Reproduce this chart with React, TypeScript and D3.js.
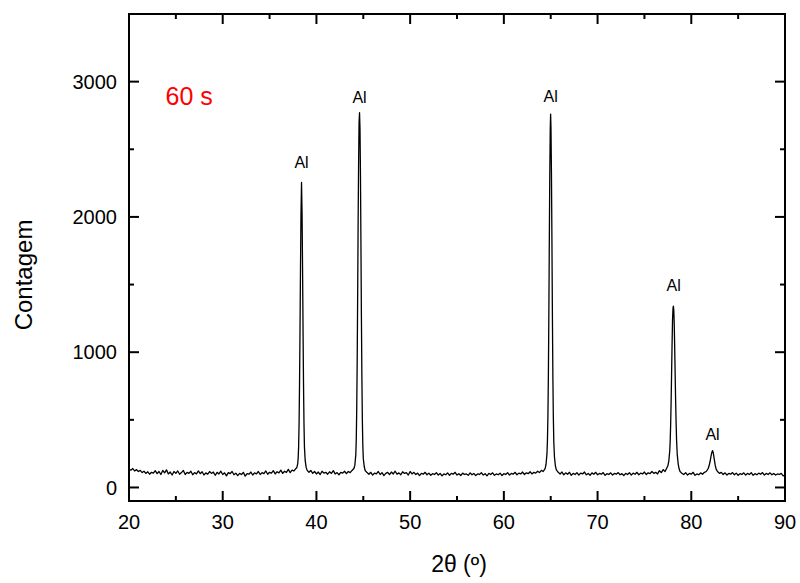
import React from "react";
import * as d3 from "d3";

// ---- data ----
const bg1: [number, number][] = [
  [20.0,135],[20.2,128],[20.4,140],[20.6,122],[20.8,132],[21.0,118],[21.2,126],[21.4,110],[21.6,120],[21.8,104],
  [22.0,116],[22.2,98],[22.4,112],[22.6,106],[22.8,124],[23.0,102],[23.2,118],[23.4,96],[23.6,126],[23.8,108],
  [24.0,130],[24.2,100],[24.4,114],[24.6,92],[24.8,118],[25.0,104],[25.2,122],[25.4,98],[25.6,110],[25.8,126],
  [26.0,96],[26.2,112],[26.4,104],[26.6,120],[26.8,94],[27.0,110],[27.2,100],[27.4,122],[27.6,102],[27.8,116],
  [28.0,92],[28.2,108],[28.4,98],[28.6,118],[28.8,104],[29.0,114],[29.2,90],[29.4,112],[29.6,100],[29.8,120],
  [30.0,96],[30.2,108],[30.4,86],[30.6,110],[30.8,102],[31.0,118],[31.2,94],[31.4,106],[31.6,88],[31.8,104],
  [32.0,96],[32.2,112],[32.4,84],[32.6,102],[32.8,98],[33.0,114],[33.2,92],[33.4,108],[33.6,100],[33.8,118],
  [34.0,96],[34.2,110],[34.4,102],[34.6,122],[34.8,98],[35.0,112],[35.2,106],[35.4,124],[35.6,100],[35.8,116],
  [36.0,108],[36.2,128],[36.4,104],[36.6,120],[36.8,112],[37.0,134],[37.2,110],[37.4,128],[37.6,122],[37.8,140],
];
const peak38: [number, number][] = [
  [37.9,145],[38.0,175],[38.05,215],[38.1,300],[38.15,480],[38.2,780],[38.25,1180],[38.3,1620],[38.35,2010],
  [38.41,2255],[38.47,2010],[38.52,1620],[38.57,1180],[38.62,780],[38.67,480],[38.72,300],[38.8,200],[38.9,150],[39.0,128],
];
const bg2: [number, number][] = [
  [39.2,112],[39.4,126],[39.6,104],[39.8,118],[40.0,100],[40.2,114],[40.4,96],[40.6,120],[40.8,106],[41.0,112],
  [41.2,98],[41.4,116],[41.6,104],[41.8,124],[42.0,100],[42.2,110],[42.4,94],[42.6,112],[42.8,106],[43.0,120],
  [43.2,102],[43.4,118],[43.6,110],[43.8,126],[44.0,140],
];
const peak44: [number, number][] = [
  [44.1,165],[44.2,240],[44.25,350],[44.3,580],[44.35,940],[44.4,1420],[44.45,1960],[44.5,2400],[44.55,2700],
  [44.6,2770],[44.65,2650],[44.7,2300],[44.75,1800],[44.8,1260],[44.85,820],[44.9,500],[44.95,310],[45.0,215],[45.1,155],[45.2,125],
];
const bg3: [number, number][] = [
  [45.4,110],[45.6,98],[45.8,112],[46.0,92],[46.2,106],[46.4,100],[46.6,118],[46.8,96],[47.0,110],[47.2,88],
  [47.4,104],[47.6,112],[47.8,96],[48.0,114],[48.2,100],[48.4,120],[48.6,98],[48.8,108],[49.0,94],[49.2,116],
  [49.4,104],[49.6,110],[49.8,92],[50.0,118],[50.2,100],[50.4,112],[50.6,96],[50.8,106],[51.0,88],[51.2,104],
  [51.4,98],[51.6,112],[51.8,94],[52.0,106],[52.2,90],[52.4,102],[52.6,96],[52.8,110],[53.0,92],[53.2,104],
  [53.4,86],[53.6,100],[53.8,94],[54.0,108],[54.2,90],[54.4,104],[54.6,98],[54.8,112],[55.0,92],[55.2,102],
  [55.4,88],[55.6,106],[55.8,96],[56.0,100],[56.2,90],[56.4,108],[56.6,94],[56.8,104],[57.0,88],[57.2,100],
  [57.4,96],[57.6,110],[57.8,92],[58.0,102],[58.2,86],[58.4,104],[58.6,96],[58.8,108],[59.0,90],[59.2,100],
  [59.4,94],[59.6,106],[59.8,88],[60.0,102],[60.2,96],[60.4,110],[60.6,92],[60.8,104],[61.0,98],[61.2,112],
  [61.4,94],[61.6,106],[61.8,100],[62.0,114],[62.2,96],[62.4,108],[62.6,102],[62.8,116],[63.0,100],[63.2,112],
  [63.4,106],[63.6,120],[63.8,110],[64.0,126],[64.2,118],[64.4,140],
];
const peak65: [number, number][] = [
  [64.5,170],[64.6,250],[64.65,345],[64.7,520],[64.75,820],[64.8,1270],[64.85,1820],[64.9,2310],[64.95,2650],
  [64.99,2760],[65.03,2650],[65.08,2310],[65.13,1820],[65.18,1270],[65.23,820],[65.28,520],[65.33,335],[65.4,225],[65.5,160],[65.6,130],
];
const bg4: [number, number][] = [
  [65.8,112],[66.0,100],[66.2,114],[66.4,94],[66.6,108],[66.8,98],[67.0,112],[67.2,90],[67.4,104],[67.6,96],
  [67.8,110],[68.0,92],[68.2,106],[68.4,100],[68.6,114],[68.8,94],[69.0,104],[69.2,90],[69.4,108],[69.6,98],
  [69.8,112],[70.0,94],[70.2,104],[70.4,98],[70.6,110],[70.8,90],[71.0,102],[71.2,96],[71.4,108],[71.6,92],
  [71.8,104],[72.0,98],[72.2,110],[72.4,94],[72.6,102],[72.8,88],[73.0,104],[73.2,96],[73.4,110],[73.6,92],
  [73.8,106],[74.0,98],[74.2,112],[74.4,94],[74.6,106],[74.8,100],[75.0,114],[75.2,96],[75.4,108],[75.6,102],
  [75.8,118],[76.0,104],[76.2,112],[76.4,100],[76.6,124],[76.8,110],[77.0,132],[77.2,118],[77.4,146],[77.5,160],
];
const peak78: [number, number][] = [
  [77.6,195],[77.7,270],[77.75,345],[77.8,470],[77.85,640],[77.9,850],[77.95,1060],[78.0,1240],[78.05,1325],
  [78.09,1340],[78.13,1315],[78.18,1210],[78.23,1030],[78.28,830],[78.33,640],[78.38,480],[78.43,350],[78.5,245],
  [78.6,175],[78.7,138],[78.8,118],
];
const bg5: [number, number][] = [
  [79.0,104],[79.2,96],[79.4,110],[79.6,92],[79.8,104],[80.0,98],[80.2,112],[80.4,90],[80.6,100],[80.8,94],
  [81.0,108],[81.2,98],[81.4,112],[81.6,118],[81.8,140],
];
const peak82: [number, number][] = [
  [81.9,160],[82.0,190],[82.1,230],[82.2,262],[82.27,272],[82.35,255],[82.45,210],[82.55,165],[82.65,135],[82.8,118],[83.0,104],
];
const bg6: [number, number][] = [
  [83.2,112],[83.4,96],[83.6,108],[83.8,92],[84.0,104],[84.2,98],[84.4,110],[84.6,94],[84.8,106],[85.0,90],
  [85.2,102],[85.4,96],[85.6,108],[85.8,92],[86.0,104],[86.2,96],[86.4,110],[86.6,90],[86.8,102],[87.0,94],
  [87.2,106],[87.4,98],[87.6,110],[87.8,92],[88.0,104],[88.2,96],[88.4,108],[88.6,94],[88.8,104],[89.0,92],
  [89.2,100],[89.4,96],[89.6,104],[89.8,86],[90.0,92],
];

const peakLabelX = [38.41, 44.6, 65.0, 78.12, 82.27];
const peakLabelY = [2360, 2843, 2851, 1456, 354];
const peakLabelText = ["Al", "Al", "Al", "Al", "Al"];

const xTicks = [20, 30, 40, 50, 60, 70, 80, 90];
const xMinor = [25, 35, 45, 55, 65, 75, 85];
const yTicks = [0, 1000, 2000, 3000];
const yMinor = [500, 1500, 2500];

const sampleLabel = "60 s";
const sampleLabelPos: [number, number] = [23.9, 2830];

const W = 800, H = 583;
const left = 129, right = 785, top = 14, bottom = 501;
const FONT = "'Liberation Sans', Arial, Helvetica, sans-serif";

export default function App() {
  const x = d3.scaleLinear().domain([20, 90]).range([left, right]);
  const y = d3.scaleLinear().domain([-100, 3500]).range([bottom, top]);
  const all = [...bg1, ...peak38, ...bg2, ...peak44, ...bg3, ...peak65, ...bg4, ...peak78, ...bg5, ...peak82, ...bg6];
  const line = d3.line<[number, number]>().x(d => x(d[0])).y(d => y(d[1]));
  const maj = 10, min = 5;
  return (
    <svg width={W} height={H} style={{ position: "absolute", left: 0, top: 0 }} fontFamily={FONT}>
      <rect width={W} height={H} fill="#fff" />
      <path d={line(all) ?? ""} fill="none" stroke="#000" strokeWidth={1.3} strokeLinejoin="round" />
      {/* frame */}
      <rect x={left} y={top} width={right - left} height={bottom - top} fill="none" stroke="#000" strokeWidth={2} />
      {xTicks.map(t => (
        <g key={"xt" + t}>
          <line x1={x(t)} x2={x(t)} y1={bottom} y2={bottom - maj} stroke="#000" strokeWidth={2} />
          <line x1={x(t)} x2={x(t)} y1={top} y2={top + maj} stroke="#000" strokeWidth={2} />
          <text x={x(t)} y={529} textAnchor="middle" fontSize={20}>{t}</text>
        </g>
      ))}
      {xMinor.map(t => (
        <g key={"xm" + t}>
          <line x1={x(t)} x2={x(t)} y1={bottom} y2={bottom - min} stroke="#000" strokeWidth={2} />
          <line x1={x(t)} x2={x(t)} y1={top} y2={top + min} stroke="#000" strokeWidth={2} />
        </g>
      ))}
      {yTicks.map(t => (
        <g key={"yt" + t}>
          <line x1={left} x2={left + maj} y1={y(t)} y2={y(t)} stroke="#000" strokeWidth={2} />
          <line x1={right} x2={right - maj} y1={y(t)} y2={y(t)} stroke="#000" strokeWidth={2} />
          <text x={117} y={y(t)} dy="0.36em" textAnchor="end" fontSize={20}>{t}</text>
        </g>
      ))}
      {yMinor.map(t => (
        <g key={"ym" + t}>
          <line x1={left} x2={left + min} y1={y(t)} y2={y(t)} stroke="#000" strokeWidth={2} />
          <line x1={right} x2={right - min} y1={y(t)} y2={y(t)} stroke="#000" strokeWidth={2} />
        </g>
      ))}
      {peakLabelX.map((px, i) => (
        <text key={"pl" + i} x={x(px)} y={y(peakLabelY[i])} textAnchor="middle" fontSize={16}>{peakLabelText[i]}</text>
      ))}
      <text x={x(sampleLabelPos[0])} y={y(sampleLabelPos[1])} fontSize={25} fill="#ff0000">{sampleLabel}</text>
      <text x={459} y={572} textAnchor="middle" fontSize={23}>2θ (º)</text>
      <text transform={`translate(32,275) rotate(-90)`} textAnchor="middle" fontSize={24}>Contagem</text>
    </svg>
  );
}
